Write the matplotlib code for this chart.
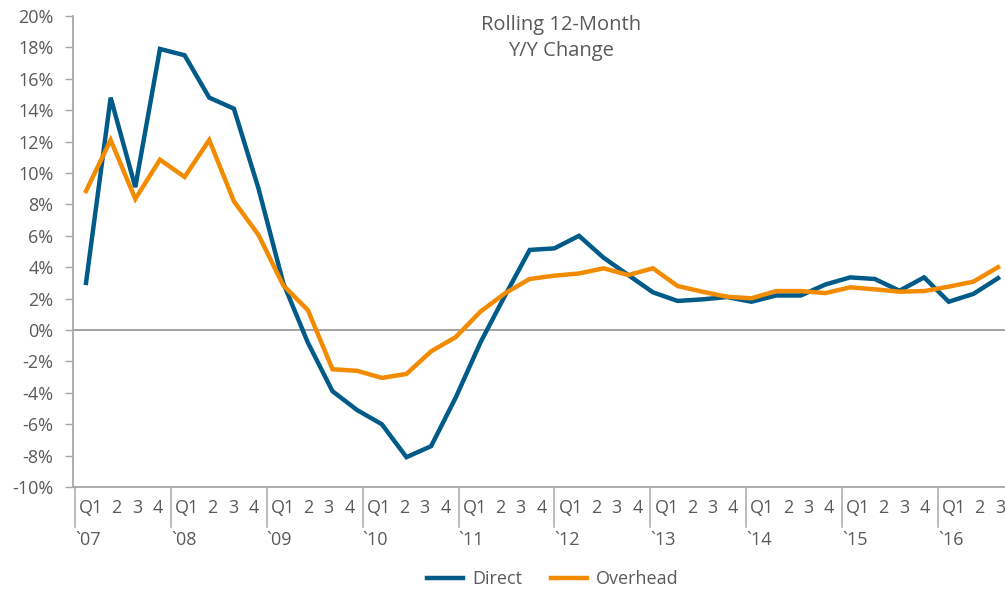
import matplotlib.pyplot as plt
import matplotlib.transforms as mtransforms

plt.rcParams["font.family"] = ["Open Sans", "DejaVu Sans"]

# rolling 12-month y/y change, %, one point per period starting 2007 Q1
direct = [3.0, 14.8, 9.1, 17.9, 17.5, 14.8, 14.1, 9.0, 3.0, -0.8,
          -3.9, -5.1, -6.0, -8.1, -7.4, -4.3, -0.8, 2.2, 5.1, 5.2,
          6.0, 4.6, 3.5, 2.4, 1.85, 1.95, 2.1, 1.8, 2.2, 2.2,
          2.9, 3.35, 3.25, 2.5, 3.35, 1.8, 2.3, 3.3]
overhead = [8.85, 12.1, 8.35, 10.85, 9.75, 12.1, 8.2, 6.05, 2.85, 1.27,
            -2.5, -2.6, -3.05, -2.8, -1.36, -0.45, 1.17, 2.34, 3.25, 3.46,
            3.6, 3.93, 3.5, 3.93, 2.8, 2.44, 2.12, 2.02, 2.48, 2.48,
            2.35, 2.72, 2.59, 2.44, 2.48, 2.76, 3.08, 4.0]
years = ["`07", "`08", "`09", "`10", "`11", "`12", "`13", "`14", "`15", "`16"]
quarters = ["Q1", "2", "3", "4"]
n_last_year_q = 3  # axis stops after 2016 Q3

BLUE = "#005b88"
ORANGE = "#f28b00"
GRAY = "#5a5a5a"
AXIS = "#a8a8a8"

fig = plt.figure(figsize=(10.05, 5.9), dpi=100)
ax = fig.add_axes([73 / 1005, 1 - 487 / 590, 932 / 1005, 471 / 590])

# the line points are spaced a little wider than the quarter categories
x = list(range(len(direct)))
ax.plot(x, direct, color=BLUE, lw=3.2, solid_joinstyle="miter", label="Direct")
ax.plot(x, overhead, color=ORANGE, lw=3.2, solid_joinstyle="miter", label="Overhead")


def q2x(q):
    # quarter position (0 = start of 2007) -> point index
    return (75 + q * 23.97 - 86) / 24.65


ax.set_xlim((73 - 86) / 24.65, (1005 - 86) / 24.65)
ax.set_ylim(-10, 20)
ax.set_yticks(range(-10, 21, 2))
ax.set_yticklabels([f"{v}%" for v in range(-10, 21, 2)])
ax.tick_params(axis="y", length=6, width=1, color=AXIS, labelsize=13,
               labelcolor=GRAY, pad=8)
ax.set_xticks([])
ax.axhline(0, color="#8a8a8a", lw=1.1, zorder=1)

for s in ["top", "right"]:
    ax.spines[s].set_visible(False)
for s in ["left", "bottom"]:
    ax.spines[s].set_color(AXIS)
    ax.spines[s].set_linewidth(1.3)

# quarter label offsets inside each year, in quarter units
q_offsets = [0.68, 1.74, 2.59, 3.46]

trans = mtransforms.blended_transform_factory(ax.transData, ax.transAxes)
for i, yr in enumerate(years):
    q0 = 4 * i
    ax.plot([q2x(q0), q2x(q0)], [0, -40 / 471], color=AXIS, lw=1.1,
            transform=trans, clip_on=False)
    ax.text(q2x(q0), -53 / 471, yr, transform=trans, ha="left", va="center",
            fontsize=13, color=GRAY)
    nq = n_last_year_q if i == len(years) - 1 else 4
    for j in range(nq):
        ax.text(q2x(q0 + q_offsets[j]), -21 / 471, quarters[j], transform=trans,
                ha="center", va="center", fontsize=13, color=GRAY)

fig.text(561 / 1005, 1 - 38 / 590, "Rolling 12-Month\nY/Y Change", ha="center",
         va="center", fontsize=14.5, color=GRAY, linespacing=1.4)

fig.legend(loc="center", bbox_to_anchor=(553 / 1005, 1 - 579 / 590), ncol=2,
           frameon=False, fontsize=13, handlelength=2.0, columnspacing=1.6,
           handletextpad=0.5, labelcolor=GRAY)

fig.savefig("out.png", dpi=100)
